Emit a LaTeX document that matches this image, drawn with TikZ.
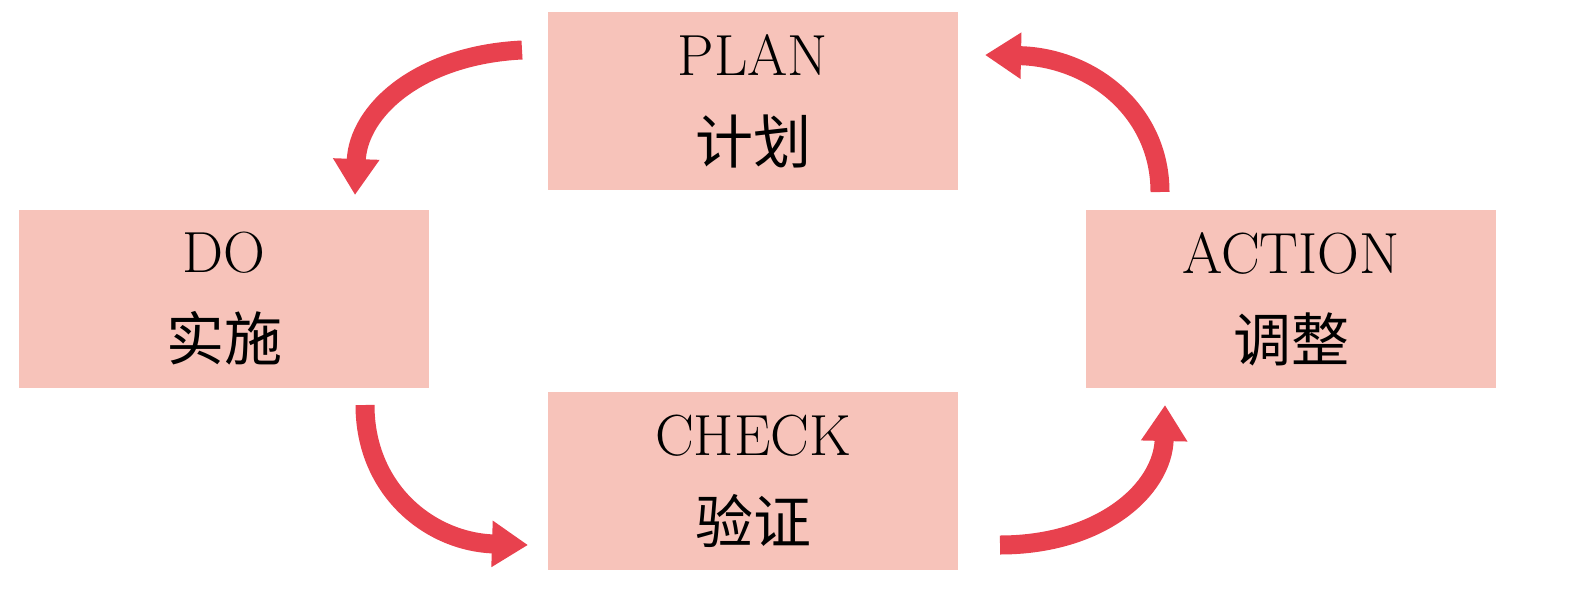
\documentclass[tikz,border=0pt]{standalone}
\usepackage{fontspec}
\newfontfamily\cjk{Noto Sans CJK SC}
\usetikzlibrary{arrows.meta}
\definecolor{boxfill}{HTML}{F7C3BA}
\definecolor{arrred}{HTML}{E8414E}
\tikzset{
  pbox/.style={fill=boxfill,draw=none,minimum width=410pt,minimum height=178pt,align=center,font=\fontsize{58}{88}\selectfont},
  carrow/.style={draw=arrred,line width=19pt,-{Triangle[length=36pt,width=44pt]}}
}
\begin{document}
\begin{tikzpicture}[x=1pt,y=-1pt]
\useasboundingbox[fill=white] (0,0) rectangle (1594,608);
\node[pbox] (plan) at (753,101) {PLAN\\{\cjk 计划}};
\node[pbox] (do) at (224,299) {DO\\{\cjk 实施}};
\node[pbox] (action) at (1291,299) {ACTION\\{\cjk 调整}};
\node[pbox] (check) at (753,481) {CHECK\\{\cjk 验证}};
\coordinate (a1s) at (522,50);  \coordinate (a1e) at (355,195);
\coordinate (a2s) at (365,405); \coordinate (a2e) at (528,545);
\coordinate (a3s) at (1000,545); \coordinate (a3e) at (1165,405);
\coordinate (a4s) at (1160,192); \coordinate (a4e) at (985,55);
\draw[carrow] (a1s) .. controls (420,55) and (358,110) .. (a1e);
\draw[carrow] (a2s) .. controls (365,490) and (430,542) .. (a2e);
\draw[carrow] (a3s) .. controls (1100,545) and (1163,490) .. (a3e);
\draw[carrow] (a4s) .. controls (1160,110) and (1090,57) .. (a4e);
\end{tikzpicture}
\end{document}
